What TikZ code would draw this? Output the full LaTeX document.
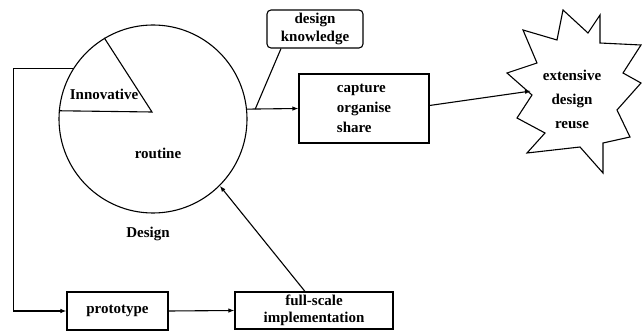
\documentclass[tikz,border=0pt]{standalone}
\usepackage{fontspec}
\setmainfont{Liberation Serif}
\usetikzlibrary{arrows.meta,calc}

\begin{document}
\begin{tikzpicture}[x=1pt,y=-1pt,line width=1.1pt,
    blockbox/.style={draw,inner sep=0pt,font=\fontsize{15}{18}\selectfont\bfseries},
    lbl/.style={font=\fontsize{15}{18}\selectfont\bfseries,align=center},
    arr/.style={-{Latex[length=6pt,width=4.5pt]}}]

\useasboundingbox (0,0) rectangle (643,331);

% 圆和扇形
\node[draw,circle,minimum size=188pt,inner sep=0pt] (design) at (153,119) {};
\coordinate (wedge) at (152,112);
\draw (design.175) -- (wedge) -- (design.121);
\node[lbl] (innov) at (104,94) {Innovative};
\node[lbl] (routine) at (158,153) {routine};
\node[lbl] (designlbl) at (148,234) {Design};

% 方框
\node[blockbox,rounded corners=4pt,align=center,minimum width=96pt,minimum height=38pt] (know) at (315,29) {design\\knowledge};
\node[blockbox,align=left,minimum width=130pt,minimum height=69pt,font=\fontsize{15}{20}\selectfont\bfseries] (capture) at (364,108.5) {capture\\organise\\share};
\node[blockbox,minimum width=101pt,minimum height=38pt] (proto) at (117.5,311) {prototype};
\node[blockbox,align=center,minimum width=158pt,minimum height=37pt,font=\fontsize{15}{17}\selectfont\bfseries] (full) at (314,310.5) {full-scale\\implementation};

% 星形
\draw (563,10) -- (588,33) -- (600,15) -- (600,43) -- (641,45) -- (623,73) -- (641,83)
  -- (617,110) -- (630,137) -- (603,143) -- (603,173) -- (580,147) -- (527,153)
  -- (545,133) -- (517,118) -- (532,95) -- (507,73) -- (537,63) -- (523,30) -- (557,40) -- cycle;
\node[lbl,font=\fontsize{15}{24}\selectfont\bfseries] (reuse) at (572,99) {extensive\\design\\reuse};
\coordinate (starin) at (531,91);

% 连线
\coordinate (junc) at ($(design.6)!0.16!(capture.west)$);
\draw[arr] (design.6) -- (capture.west);
\draw ($(know.south west)!0.15!(know.south east)$) -- (junc);
\draw[arr] ([yshift=3pt]capture.east) -- (starin);
\draw[arr] (design.148) -- ++(-59,0) |- (proto.west);
\draw[arr] (proto.east) -- (full.west);
\draw[arr] ([xshift=-9pt]full.north) -- (design.-45);

\end{tikzpicture}
\end{document}
